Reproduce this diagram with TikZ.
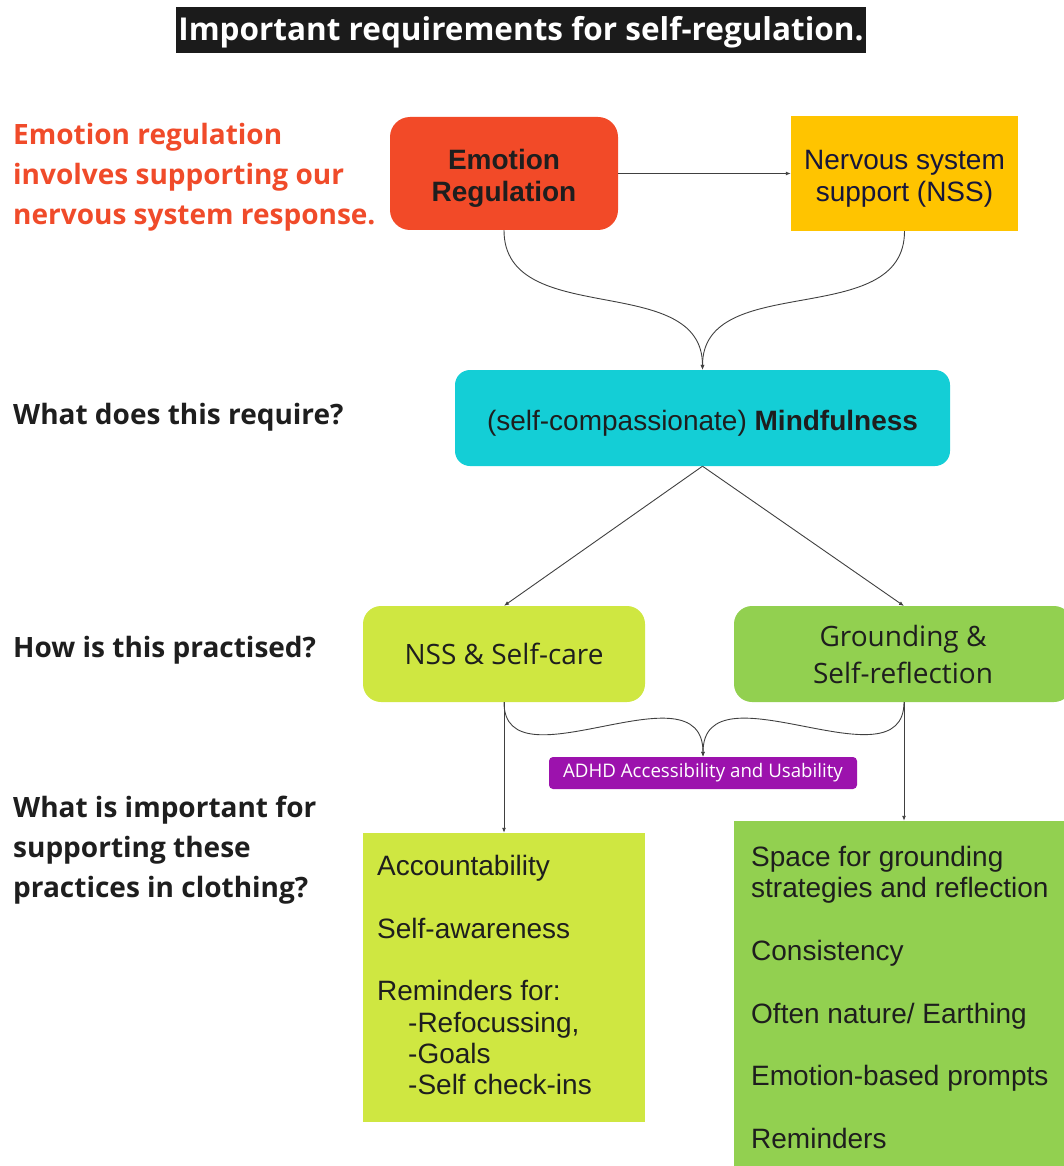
\documentclass[tikz,border=0pt]{standalone}
\usepackage{fontspec}
\setmainfont{Liberation Sans}
\newfontfamily\os{Open Sans}
\usetikzlibrary{arrows.meta}
\definecolor{erred}{HTML}{F24A28}
\definecolor{nssyel}{HTML}{FFC400}
\definecolor{mindcyan}{HTML}{14CED6}
\definecolor{limeg}{HTML}{CFE741}
\definecolor{grassg}{HTML}{92D050}
\definecolor{adhdp}{HTML}{9C12AD}
\definecolor{titlebg}{HTML}{1B1B1B}
\definecolor{redtxt}{HTML}{F04B2A}
\definecolor{darktxt}{HTML}{1E1E1E}
\definecolor{navytxt}{HTML}{16163A}
\definecolor{linec}{HTML}{404040}
\tikzset{
  boxbase/.style={inner sep=0pt, align=center, text=darktxt},
  labeltxt/.style={inner sep=0pt, align=center, text=darktxt},
  conn/.style={draw=linec, line width=0.9pt, -{Latex[length=5pt,width=4pt]}},
  leftq/.style={anchor=west, align=left, inner sep=0pt, font=\os\bfseries\fontsize{28}{40}\selectfont, text=darktxt},
  listtxt/.style={anchor=north west, align=left, inner sep=0pt, font=\fontsize{28}{31.3}\selectfont, text=darktxt}
}
\begin{document}
\begin{tikzpicture}[x=1pt,y=-1pt]
\useasboundingbox (0,0) rectangle (1064,1166);
% title
\node[fill=titlebg, minimum width=690pt, minimum height=46pt, inner sep=0pt] (title) at (521,30) {};
\node[labeltxt, text=white, font=\os\bfseries\fontsize{31.5}{36}\selectfont] (titletxt) at ([yshift=-2pt]title.center) {Important requirements for self-regulation.};
% left texts
\node[leftq, text=redtxt] (q0) at (13,177) {Emotion regulation\\involves supporting our\\nervous system response.};
\node[leftq] (q1) at (13,417) {What does this require?};
\node[leftq] (q2) at (13,650) {How is this practised?};
\node[leftq] (q3) at (13,850) {What is important for\\supporting these\\practices in clothing?};
% boxes
\node[boxbase, fill=erred, rounded corners=20pt, minimum width=228pt, minimum height=113pt] (er) at (504,173.5) {};
\node[labeltxt, font=\bfseries\fontsize{28}{32}\selectfont] (ertxt) at ([yshift=-5pt]er.center) {Emotion\\Regulation};
\node[boxbase, fill=nssyel, minimum width=227pt, minimum height=115pt] (nss) at (904.5,173.5) {};
\node[labeltxt, text=navytxt, font=\fontsize{28}{32}\selectfont] (nsstxt) at ([yshift=-5pt]nss.center) {Nervous system\\support (NSS)};
\node[boxbase, fill=mindcyan, rounded corners=15pt, minimum width=495pt, minimum height=96pt] (mind) at (702.5,418) {};
\node[labeltxt, font=\fontsize{28}{30}\selectfont] (mindtxt) at ([yshift=-5pt]mind.center) {(self-compassionate) \textbf{Mindfulness}};
\node[boxbase, fill=limeg, rounded corners=18pt, minimum width=282pt, minimum height=96pt, font=\os\fontsize{28}{37}\selectfont] (selfcare) at (504,654) {NSS \& Self-care};
\node[boxbase, fill=grassg, rounded corners=18pt, minimum width=338pt, minimum height=96pt, font=\os\fontsize{28}{37}\selectfont] (ground) at (903,654) {Grounding \&\\Self-reflection};
\node[boxbase, fill=adhdp, rounded corners=4pt, minimum width=308pt, minimum height=32pt, text=white, font=\os\fontsize{18.7}{20}\selectfont] (adhd) at (703,773) {ADHD Accessibility and Usability};
\node[fill=limeg, inner sep=0pt, minimum width=282pt, minimum height=289pt] (llist) at (504,977.5) {};
\node[fill=grassg, inner sep=0pt, minimum width=332pt, minimum height=345pt] (rlist) at (900,993.5) {};
\node[listtxt] (ltxt) at (377,855) {Accountability\\[31.3pt]Self-awareness\\[31.3pt]Reminders for:\\\hspace*{31pt}-Refocussing,\\\hspace*{31pt}-Goals\\\hspace*{31pt}-Self check-ins};
\node[listtxt] (rtxt) at (751,846) {Space for grounding\\strategies and reflection\\[31.3pt]Consistency\\[31.3pt]Often nature/ Earthing\\[31.3pt]Emotion-based prompts\\[31.3pt]Reminders};
% connectors
\coordinate (gb) at (904,702);
\coordinate (gt) at (904,606);
\draw[conn] (er.east) -- (nss.west);
\draw[conn] (er.south) .. controls +(0,100) and +(0,-100) .. (mind.north);
\draw[conn] (nss.south) .. controls +(0,100) and +(0,-100) .. (mind.north);
\draw[conn] (mind.south) -- (selfcare.north);
\draw[conn] (mind.south) -- (gt);
\draw[conn] (selfcare.south) -- (llist.north);
\draw[conn] (gb) -- (gb |- rlist.north);
\draw[conn] (selfcare.south) .. controls +(0,88) and +(0,-95) .. (adhd.north);
\draw[conn] (gb) .. controls +(0,88) and +(0,-95) .. (adhd.north);
\end{tikzpicture}
\end{document}
